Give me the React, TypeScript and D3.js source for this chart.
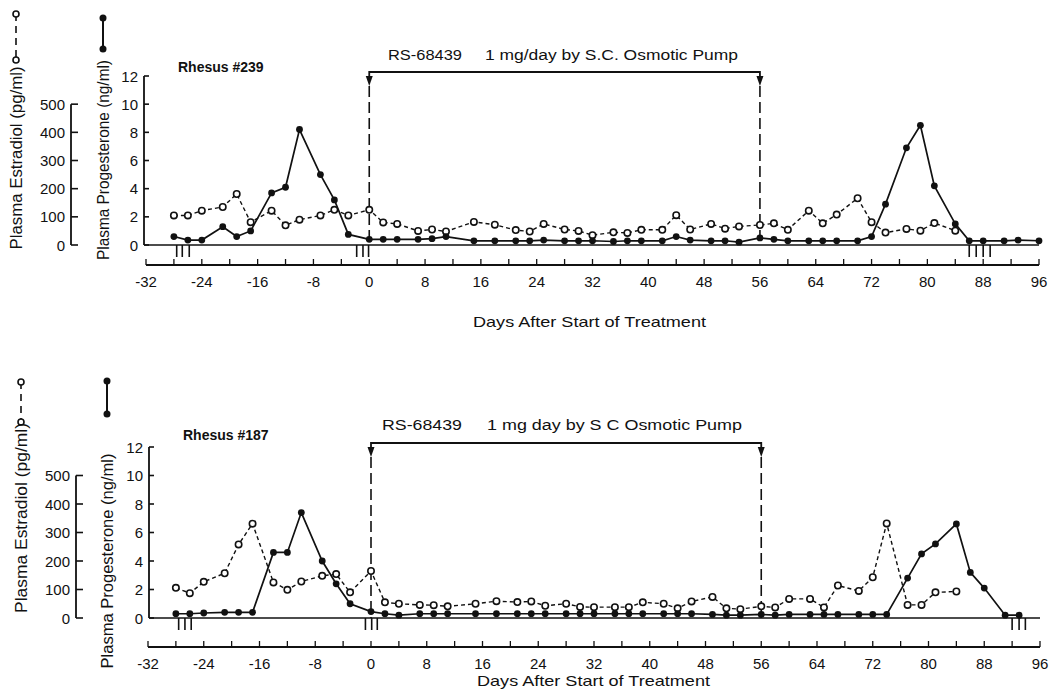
import * as d3 from "d3";

// day tick labels shared by both panels
const dayTickLabels = [-32, -24, -16, -8, 0, 8, 16, 24, 32, 40, 48, 56, 64, 72, 80, 88, 96];
const progTicks = [0, 2, 4, 6, 8, 10, 12];
const estTicks = [0, 100, 200, 300, 400, 500];

// Rhesus #239
const progDays239 = [-28, -26, -24, -21, -19, -17, -14, -12, -10, -7, -5, -3, 0, 2, 4, 7, 9, 11, 15, 18, 21, 23, 25, 28, 30, 32, 35, 37, 39, 42, 44, 46, 49, 51, 53, 56, 58, 60, 63, 65, 67, 70, 72, 74, 77, 79, 81, 84, 86, 88, 91, 93, 96];
const prog239 = [0.6, 0.35, 0.35, 1.3, 0.6, 1.0, 3.7, 4.1, 8.2, 5.0, 3.2, 0.75, 0.4, 0.4, 0.4, 0.4, 0.45, 0.6, 0.3, 0.3, 0.3, 0.3, 0.35, 0.3, 0.3, 0.3, 0.25, 0.3, 0.3, 0.3, 0.6, 0.35, 0.3, 0.3, 0.2, 0.5, 0.4, 0.3, 0.3, 0.3, 0.3, 0.3, 0.6, 2.9, 6.9, 8.5, 4.2, 1.5, 0.3, 0.3, 0.3, 0.35, 0.3];
const estDays239 = [-28, -26, -24, -21, -19, -17, -14, -12, -10, -7, -5, -3, 0, 2, 4, 7, 9, 11, 15, 18, 21, 23, 25, 28, 30, 32, 35, 37, 39, 42, 44, 46, 49, 51, 53, 56, 58, 60, 63, 65, 67, 70, 72, 74, 77, 79, 81, 84];
const est239 = [105, 105, 122, 135, 181, 81, 122, 70, 90, 105, 125, 105, 125, 80, 75, 50, 55, 48, 82, 72, 53, 48, 75, 55, 50, 35, 45, 43, 54, 54, 106, 55, 75, 58, 66, 71, 77, 54, 122, 77, 108, 166, 81, 44, 57, 51, 78, 51];
const menses239 = [-27.6, -26.8, -25.8, -1.8, -0.9, -0.1, 86, 87, 88, 89];

// Rhesus #187
const progDays187 = [-28, -26, -24, -21, -19, -17, -14, -12, -10, -7, -5, -3, 0, 2, 4, 7, 9, 11, 15, 18, 21, 23, 25, 28, 30, 32, 35, 37, 39, 42, 44, 46, 49, 51, 53, 56, 58, 60, 63, 65, 67, 70, 72, 74, 77, 79, 81, 84, 86, 88, 91, 93];
const prog187 = [0.3, 0.3, 0.35, 0.4, 0.4, 0.4, 4.6, 4.6, 7.4, 4.0, 2.4, 1.0, 0.45, 0.3, 0.2, 0.3, 0.3, 0.3, 0.3, 0.3, 0.3, 0.3, 0.3, 0.3, 0.3, 0.3, 0.3, 0.3, 0.3, 0.3, 0.3, 0.3, 0.25, 0.2, 0.2, 0.25, 0.2, 0.25, 0.25, 0.25, 0.25, 0.25, 0.25, 0.25, 2.8, 4.5, 5.2, 6.6, 3.2, 2.1, 0.2, 0.2];
const estDays187 = [-28, -26, -24, -21, -19, -17, -14, -12, -10, -7, -5, -3, 0, 2, 4, 7, 9, 11, 15, 18, 21, 23, 25, 28, 30, 32, 35, 37, 39, 42, 44, 46, 49, 51, 53, 56, 58, 60, 63, 65, 67, 70, 72, 74, 77, 79, 81, 84];
const est187 = [106, 87, 127, 157, 258, 331, 125, 99, 128, 148, 154, 90, 165, 55, 50, 46, 45, 41, 50, 59, 56, 58, 43, 50, 39, 38, 38, 38, 55, 50, 34, 58, 74, 34, 31, 41, 37, 67, 67, 37, 114, 95, 143, 332, 46, 46, 90, 93];
const menses187 = [-27.6, -26.7, -25.8, -0.8, 0.1, 0.9, 92, 93, 93.9];

const FONT = "'Liberation Sans', Arial, Helvetica, sans-serif";

function Panel({ title, drug, dose, progDays, prog, estDays, est, menses, L }) {
  const x = d3.scaleLinear().domain([-32, 96]).range([L.x0, L.x1]);
  const yP = d3.scaleLinear().domain([0, 12]).range([L.base, L.top]);
  const yE = d3.scaleLinear().domain([0, 500]).range([L.base, yP(10)]);

  const progLine = d3.line<number>().x((d, i) => x(progDays[i])).y((d) => yP(d));
  const estLine = d3.line<number>().x((d, i) => x(estDays[i])).y((d) => yE(d));

  const by = L.bracketY;
  const x0 = x(0);
  const x56 = x(56);

  return (
    <g fontFamily={FONT} fill="#111">
      {/* legend symbols + rotated axis titles */}
      <line x1={L.estLegX} x2={L.estLegX} y1={L.estLeg[0]} y2={L.estLeg[1]} stroke="#111" strokeWidth={1.6} strokeDasharray="7,5" />
      <circle cx={L.estLegX} cy={L.estLeg[0]} r={3} fill="#fff" stroke="#111" strokeWidth={1.6} />
      <circle cx={L.estLegX} cy={L.estLeg[1]} r={3} fill="#fff" stroke="#111" strokeWidth={1.6} />
      <line x1={L.progLegX} x2={L.progLegX} y1={L.progLeg[0]} y2={L.progLeg[1]} stroke="#111" strokeWidth={2} />
      <circle cx={L.progLegX} cy={L.progLeg[0]} r={3.5} fill="#111" />
      <circle cx={L.progLegX} cy={L.progLeg[1]} r={3.5} fill="#111" />
      <text transform={`translate(${L.estLegX},${L.estLabelY}) rotate(-90)`} textAnchor="middle" dominantBaseline="central" fontSize={16} textLength={L.estLabelLen} lengthAdjust="spacingAndGlyphs">
        Plasma Estradiol (pg/ml)
      </text>
      <text transform={`translate(${L.progLegX},${L.progLabelY}) rotate(-90)`} textAnchor="middle" dominantBaseline="central" fontSize={16} textLength={L.progLabelLen} lengthAdjust="spacingAndGlyphs">
        Plasma Progesterone (ng/ml)
      </text>

      {/* estradiol axis */}
      <line x1={L.estAxisX} x2={L.estAxisX} y1={yE(0)} y2={yE(500)} stroke="#111" strokeWidth={1.8} />
      {estTicks.map((t) => (
        <g key={"e" + t}>
          <line x1={L.estAxisX} x2={L.estAxisX + 7} y1={yE(t)} y2={yE(t)} stroke="#111" strokeWidth={1.6} />
          <text x={L.estAxisX - 6} y={yE(t)} textAnchor="end" dominantBaseline="central" fontSize={15}>{t}</text>
        </g>
      ))}

      {/* progesterone axis */}
      <line x1={L.progAxisX} x2={L.progAxisX} y1={yP(0)} y2={yP(12)} stroke="#111" strokeWidth={1.8} />
      {progTicks.map((t) => (
        <g key={"p" + t}>
          <line x1={L.progAxisX} x2={L.progAxisX + 5} y1={yP(t)} y2={yP(t)} stroke="#111" strokeWidth={1.6} />
          <text x={L.progAxisX - 6} y={yP(t)} textAnchor="end" dominantBaseline="central" fontSize={15}>{t}</text>
        </g>
      ))}

      {/* baseline */}
      <line x1={L.progAxisX} x2={x(96)} y1={L.base} y2={L.base} stroke="#111" strokeWidth={1.4} />

      {/* menses marks */}
      {menses.map((m, i) => (
        <line key={"m" + i} x1={x(m)} x2={x(m)} y1={L.base} y2={L.base + 12} stroke="#111" strokeWidth={1.6} />
      ))}

      {/* time axis */}
      <line x1={x(-32)} x2={x(96)} y1={L.timeY} y2={L.timeY} stroke="#111" strokeWidth={1.8} />
      {d3.range(-32, 97, 4).map((d) => (
        <line key={"t" + d} x1={x(d)} x2={x(d)} y1={L.timeY} y2={L.timeY - 6} stroke="#111" strokeWidth={1.3} />
      ))}
      {dayTickLabels.map((d) => (
        <text key={"tl" + d} x={x(d)} y={L.timeLabelY} textAnchor="middle" dominantBaseline="central" fontSize={15}>{d}</text>
      ))}
      <text x={L.daysX} y={L.daysY} dominantBaseline="central" fontSize={14.5} textLength={233} lengthAdjust="spacingAndGlyphs">
        Days After Start of Treatment
      </text>

      {/* title */}
      <text x={L.titleX} y={L.titleY} dominantBaseline="central" fontSize={14} fontWeight="bold">{title}</text>

      {/* treatment bracket */}
      <path d={`M${x0},${by + 6} V${by} H${x56} V${by + 6}`} fill="none" stroke="#111" strokeWidth={1.8} />
      <path d={`M${x0 - 3.5},${by + 4} L${x0 + 3.5},${by + 4} L${x0},${by + 14} Z`} fill="#111" />
      <path d={`M${x56 - 3.5},${by + 4} L${x56 + 3.5},${by + 4} L${x56},${by + 14} Z`} fill="#111" />
      <line x1={x0} x2={x0} y1={by + 14} y2={L.base} stroke="#111" strokeWidth={1.6} strokeDasharray="11,5" />
      <line x1={x56} x2={x56} y1={by + 14} y2={L.base} stroke="#111" strokeWidth={1.6} strokeDasharray="11,5" />
      <text x={L.drugX} y={L.textY} dominantBaseline="central" fontSize={14} textLength={L.drugLen} lengthAdjust="spacingAndGlyphs">{drug}</text>
      <text x={L.doseX} y={L.textY} dominantBaseline="central" fontSize={14} textLength={L.doseLen} lengthAdjust="spacingAndGlyphs">{dose}</text>

      {/* series */}
      <path d={estLine(est) || ""} fill="none" stroke="#111" strokeWidth={1.4} strokeDasharray="4,3" />
      <path d={progLine(prog) || ""} fill="none" stroke="#111" strokeWidth={1.7} />
      {est.map((v, i) => (
        <circle key={"ec" + i} cx={x(estDays[i])} cy={yE(v)} r={3.2} fill="#fff" stroke="#111" strokeWidth={1.6} />
      ))}
      {prog.map((v, i) => (
        <circle key={"pc" + i} cx={x(progDays[i])} cy={yP(v)} r={3.4} fill="#111" />
      ))}
    </g>
  );
}

const layoutTop = {
  x0: 146, x1: 1039, base: 245, top: 76,
  estAxisX: 71, progAxisX: 144, timeY: 265, timeLabelY: 281,
  daysX: 473, daysY: 322, titleX: 178, titleY: 67,
  bracketY: 72, textY: 55, drugX: 388, drugLen: 74, doseX: 485, doseLen: 253,
  estLegX: 16, estLeg: [14, 60], progLegX: 103, progLeg: [18, 49],
  estLabelY: 158, estLabelLen: 183, progLabelY: 160, progLabelLen: 200,
};

const layoutBottom = {
  x0: 148, x1: 1040, base: 618, top: 447,
  estAxisX: 76, progAxisX: 149, timeY: 647, timeLabelY: 663,
  daysX: 477, daysY: 681, titleX: 183, titleY: 435,
  bracketY: 443, textY: 425, drugX: 382, drugLen: 80, doseX: 487, doseLen: 255,
  estLegX: 21, estLeg: [382, 422], progLegX: 107, progLeg: [381, 414],
  estLabelY: 518, estLabelLen: 190, progLabelY: 561, progLabelLen: 215,
};

export default function App() {
  return (
    <svg width={1049} height={698} style={{ position: "absolute", left: 0, top: 0, background: "#fff" }}>
      <rect width={1049} height={698} fill="#fff" />
      <Panel title="Rhesus #239" drug="RS-68439" dose="1 mg/day by S.C. Osmotic Pump"
        progDays={progDays239} prog={prog239} estDays={estDays239} est={est239} menses={menses239} L={layoutTop} />
      <Panel title="Rhesus #187" drug="RS-68439" dose="1 mg day by S C  Osmotic Pump"
        progDays={progDays187} prog={prog187} estDays={estDays187} est={est187} menses={menses187} L={layoutBottom} />
    </svg>
  );
}
